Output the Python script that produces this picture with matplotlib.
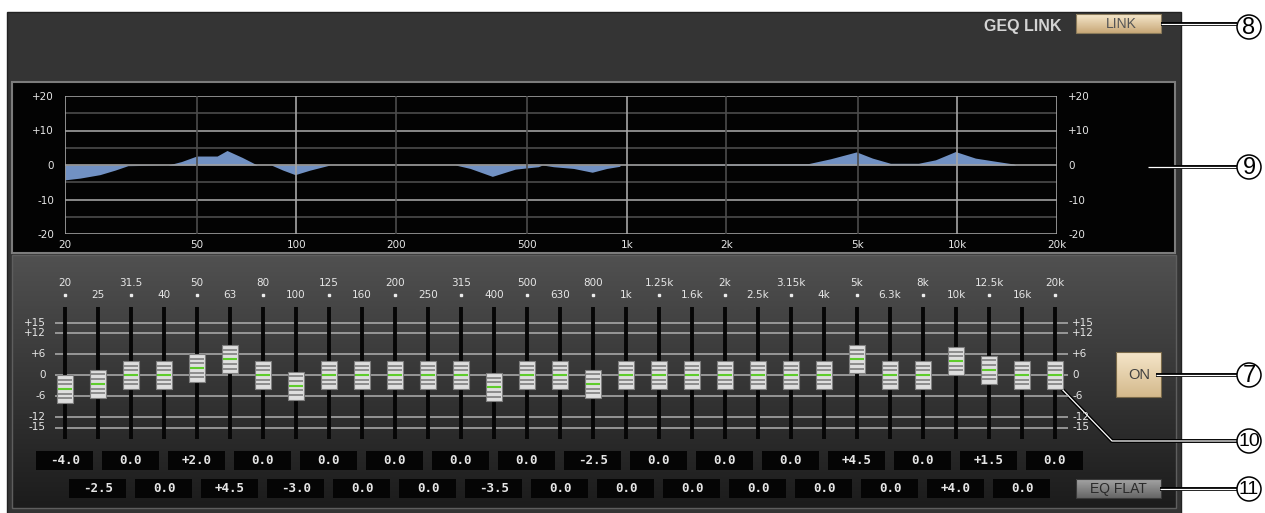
import numpy as np
import matplotlib
matplotlib.use("Agg")
import matplotlib.pyplot as plt
from matplotlib.patches import Rectangle, Circle
from matplotlib.colors import LinearSegmentedColormap
from matplotlib.ticker import NullLocator
import matplotlib.patheffects as pe

# GEQ band labels and fader gains (dB)
band_labels = ['20', '25', '31.5', '40', '50', '63', '80', '100', '125', '160',
               '200', '250', '315', '400', '500', '630', '800', '1k', '1.25k', '1.6k',
               '2k', '2.5k', '3.15k', '4k', '5k', '6.3k', '8k', '10k', '12.5k', '16k', '20k']
band_gains = [-4.0, -2.5, 0.0, 0.0, 2.0, 4.5, 0.0, -3.0, 0.0, 0.0,
              0.0, 0.0, 0.0, -3.5, 0.0, 0.0, -2.5, 0.0, 0.0, 0.0,
              0.0, 0.0, 0.0, 0.0, 4.5, 0.0, 0.0, 4.0, 1.5, 0.0, 0.0]

# response curve (Hz, dB)
curve_freq = [20, 22.2, 25.5, 28.3, 31, 41, 45, 50, 57.7, 61.8, 68.7, 76.2, 84, 91.3,
              99.3, 110, 126.7, 303, 336, 392, 460, 540, 556, 600, 690, 786, 870, 950,
              960, 3540, 4130, 4950, 5530, 6270, 7620, 8580, 9860, 11330, 13210,
              14770, 15000, 20000]
curve_db = [-4.3, -3.8, -2.8, -1.5, -0.2, 0.0, 1.0, 2.6, 2.6, 4.2, 2.2, 0.0, 0.0, -1.5,
            -2.8, -1.5, 0.0, 0.0, -1.0, -3.3, -1.2, -0.5, 0.0, -0.5, -1.0, -2.1, -1.0, -0.4,
            0.0, 0.4, 1.8, 3.8, 2.0, 0.5, 0.5, 1.5, 3.9, 2.0, 1.0,
            0.3, 0.0, 0.0]

graph_ticks_hz = [20, 50, 100, 200, 500, 1000, 2000, 5000, 10000, 20000]
graph_tick_labels = ['20', '50', '100', '200', '500', '1k', '2k', '5k', '10k', '20k']
graph_db_ticks = [-20, -10, 0, 10, 20]
graph_db_labels = ['-20', '-10', '0', '+10', '+20']
scale_levels = [15, 12, 6, 0, -6, -12, -15]
scale_labels = ['+15', '+12', '+6', '0', '-6', '-12', '-15']

W, H = 1265, 513
fig = plt.figure(figsize=(W / 100, H / 100), dpi=100)
fig.patch.set_facecolor('white')


def px_axes(x0, y0, x1, y1, z=1):
    ax = fig.add_axes([x0 / W, 1 - y1 / H, (x1 - x0) / W, (y1 - y0) / H])
    ax.set_zorder(z)
    ax.patch.set_alpha(0)
    return ax


def grad_rect(ax, x0, y0, x1, y1, c_top, c_bot, zorder=1):
    cmap = LinearSegmentedColormap.from_list('g', [c_top, c_bot])
    arr = np.linspace(0, 1, 64)[:, None]
    ax.imshow(arr, cmap=cmap, extent=[x0, x1, y1, y0], aspect='auto',
              interpolation='bilinear', zorder=zorder)


# background / panel layer in pixel coordinates
bg = px_axes(0, 0, W, H, z=0)
bg.axis('off')
bg.add_patch(Rectangle((7, 12), 1174, 505, fc='#343434', ec='#222222', lw=1, zorder=0))
bg.add_patch(Rectangle((12, 82), 1163, 171, fc='#030303', ec='#7c7c7c', lw=1.5, zorder=1))
grad_rect(bg, 12, 255, 1176, 508, '#505050', '#1c1c1c', zorder=1)
bg.add_patch(Rectangle((12, 255), 1164, 253, fill=False, ec='#5e5e5e', lw=1, zorder=2))

# buttons
grad_rect(bg, 1076, 14, 1161, 33, '#f6e8cc', '#c8a878', zorder=3)
bg.add_patch(Rectangle((1076, 14), 85, 19, fill=False, ec='#8a7a5a', lw=0.8, zorder=4))
bg.text(1121, 23.5, 'LINK', ha='center', va='center', fontsize=10,
        family='Liberation Sans', color='#555555', zorder=5)
bg.text(1062, 27, 'GEQ LINK', ha='right', va='center', fontsize=11.5, fontweight='bold',
        family='Liberation Sans', color='#d4d4d4', zorder=5)

grad_rect(bg, 1116, 352, 1161, 397, '#f5e6c9', '#d4b98c', zorder=3)
bg.add_patch(Rectangle((1116, 352), 45, 45, fill=False, ec='#7a6a4a', lw=0.8, zorder=4))
bg.text(1139, 375, 'ON', ha='center', va='center', fontsize=10.5,
        family='Liberation Sans', color='#404040', zorder=5)

grad_rect(bg, 1076, 479, 1161, 498, '#a4a4a4', '#666666', zorder=3)
bg.add_patch(Rectangle((1076, 479), 85, 19, fill=False, ec='#3a3a3a', lw=0.8, zorder=4))
bg.text(1118, 489, 'EQ FLAT', ha='center', va='center', fontsize=10,
        family='Liberation Sans', color='#2a2a2a', zorder=5)

# callouts
leader_fx = [pe.Stroke(linewidth=2.8, foreground='black'), pe.Normal()]
callouts = [('8', [(1161, 24), (1237, 24)], 27),
            ('9', [(1148, 167), (1237, 167)], 167),
            ('7', [(1156, 375), (1237, 375)], 375),
            ('10', [(1057, 384), (1112, 441), (1237, 441)], 441),
            ('11', [(1160, 489), (1237, 489)], 489)]
for num, pts, cy in callouts:
    xs, ys = zip(*pts)
    bg.plot(xs, ys, color='white', lw=0.9, path_effects=leader_fx, zorder=8,
            solid_capstyle='butt')
    bg.add_patch(Circle((1249, cy), 12, fc='white', ec='black', lw=1.1, zorder=9))
    bg.text(1249, cy + 0.5, num, ha='center', va='center', zorder=10,
            fontsize=17 if len(num) == 1 else 14, family='Liberation Sans', color='black')

bg.set_xlim(0, W)
bg.set_ylim(H, 0)

# frequency response graph
gx = px_axes(65, 96, 1057, 234, z=2)
gx.set_xscale('log')
gx.set_xlim(20, 20000)
gx.set_ylim(-20, 20)
for s in gx.spines.values():
    s.set_visible(False)
gx.fill_between(curve_freq, curve_db, 0, color='#7191c3', lw=0, zorder=1)
for lv in range(-20, 21, 5):
    major = lv % 10 == 0
    gx.axhline(lv, color='#a0a0a0' if major else '#4c4c4c', lw=1.2, zorder=2)
for f in graph_ticks_hz:
    bright = f in (20, 100, 1000, 10000, 20000)
    gx.axvline(f, color='#a6a6a6' if bright else '#4c4c4c', lw=1.2, zorder=2)
gx.set_xticks(graph_ticks_hz)
gx.set_xticklabels(graph_tick_labels)
gx.xaxis.set_minor_locator(NullLocator())
gx.set_yticks(graph_db_ticks)
gx.set_yticklabels(graph_db_labels)
gx.tick_params(axis='both', length=0, labelsize=7.5, colors='#e6e6e6')
gx.tick_params(axis='y', labelleft=True, labelright=True, pad=8)
gx.tick_params(axis='x', pad=4)

# fader section: x = band index, y = dB
fx = px_axes(65, 322.5, 1055, 427.5, z=3)
fx.set_xlim(0, 30)
fx.set_ylim(-15, 15)
fx.axis('off')
idx = np.arange(len(band_labels))

fx.hlines(scale_levels, -0.3, 30.4, color='#a6a6a6', lw=1.2, zorder=1, clip_on=False)
fx.vlines(idx, -18.4, 19.3, color='#060606', lw=2.8, zorder=2, clip_on=False)
for lv, lab in zip(scale_levels, scale_labels):
    fx.text(-0.58, lv, lab, ha='right', va='center', fontsize=7.5, color='#e6e6e6', clip_on=False)
    fx.text(30.52, lv, lab, ha='left', va='center', fontsize=7.5, color='#e6e6e6', clip_on=False)

for i, (lab, g) in enumerate(zip(band_labels, band_gains)):
    # band labels, alternating rows
    if i % 2 == 0:
        fx.text(i, 26.3, lab, ha='center', va='center', fontsize=7.5, color='#e6e6e6', clip_on=False)
        fx.plot(i, 22.9, marker='s', ms=2, color='#ececec', clip_on=False)
    else:
        fx.text(i, 22.9, lab, ha='center', va='center', fontsize=7.5, color='#e6e6e6', clip_on=False)

    # fader knob
    fx.add_patch(Rectangle((i - 0.24, g - 4), 0.48, 8, fc='#dedede', ec='#808080',
                           lw=0.8, zorder=4, clip_on=False))
    for off in (-2.7, -1.4, 1.4, 2.7):
        fx.plot([i - 0.2, i + 0.2], [g + off, g + off], color='#8c8c8c', lw=1.4,
                zorder=5, clip_on=False, solid_capstyle='butt')
    fx.plot([i - 0.22, i + 0.22], [g, g], color='#5fcc2c', lw=1.5, zorder=6,
            clip_on=False, solid_capstyle='butt')

    # value readout
    yc = -24.3 if i % 2 == 0 else -32.4
    fx.add_patch(Rectangle((i - 0.864, yc - 2.7), 1.727, 5.4, fc='#050505', ec='none',
                           zorder=3, clip_on=False))
    txt = '0.0' if g == 0 else f'{g:+.1f}'
    fx.text(i, yc, txt, ha='center', va='center', fontsize=9, fontweight='bold',
            family='DejaVu Sans Mono', color='#e6e6e6', zorder=4, clip_on=False)

fig.savefig('out.png', dpi=100, facecolor='white')
